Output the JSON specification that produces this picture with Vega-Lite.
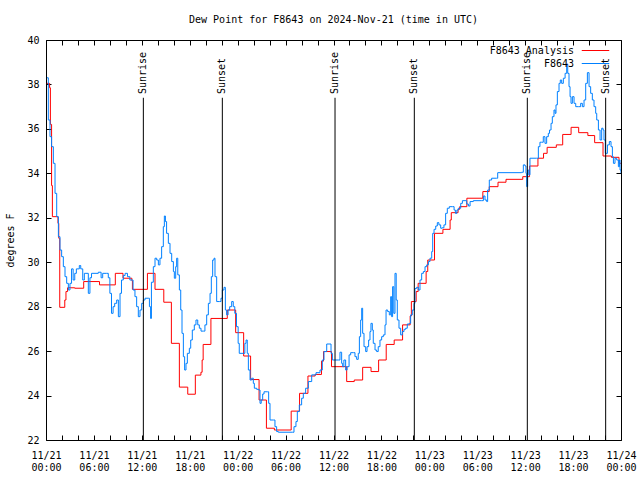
{
  "$schema": "https://vega.github.io/schema/vega-lite/v6.json",
  "autosize": {"type": "none"},
  "padding": {"left": 46, "top": 40, "right": 19, "bottom": 40},
  "width": 575,
  "height": 400,
  "title": {"text": "Dew Point for F8643 on 2024-Nov-21 (time in UTC)", "font": "DejaVu Sans Mono", "fontSize": 10, "fontWeight": "normal", "color": "black", "offset": 10},
  "config": {
    "view": {"stroke": "black", "strokeWidth": 1},
    "axis": {"domain": false, "grid": false, "labelFont": "DejaVu Sans Mono", "labelFontSize": 10, "labelColor": "black", "tickColor": "black", "tickSize": -5, "titleFont": "DejaVu Sans Mono", "titleFontSize": 10, "titleFontWeight": "normal", "titleColor": "black"},
    "legend": {"labelFont": "DejaVu Sans Mono", "labelFontSize": 10, "labelColor": "black"}
  },
  "datasets": {
    "analysis": [
      {"hour": 0.1, "dewpoint": 38.05}, {"hour": 0.45, "dewpoint": 37.85}, {"hour": 0.55, "dewpoint": 36.2}, {"hour": 0.7, "dewpoint": 33.45}, {"hour": 0.8, "dewpoint": 32.05}, {"hour": 1.5, "dewpoint": 31.75}, {"hour": 1.6, "dewpoint": 31.08}, {"hour": 1.72, "dewpoint": 27.97}, {"hour": 2.35, "dewpoint": 28.3}, {"hour": 2.5, "dewpoint": 28.68}, {"hour": 2.7, "dewpoint": 28.85}, {"hour": 3.6, "dewpoint": 28.83}, {"hour": 4.72, "dewpoint": 29.13}, {"hour": 6.7, "dewpoint": 28.98}, {"hour": 8.68, "dewpoint": 29.5}, {"hour": 9.64, "dewpoint": 29.28}, {"hour": 10.75, "dewpoint": 29.17}, {"hour": 10.82, "dewpoint": 28.78}, {"hour": 12.7, "dewpoint": 29.5}, {"hour": 13.65, "dewpoint": 28.78}, {"hour": 14.75, "dewpoint": 28.2}, {"hour": 15.7, "dewpoint": 26.35}, {"hour": 16.7, "dewpoint": 24.38}, {"hour": 17.75, "dewpoint": 24.06}, {"hour": 18.7, "dewpoint": 24.92}, {"hour": 19.4, "dewpoint": 25.05}, {"hour": 19.55, "dewpoint": 25.6}, {"hour": 19.68, "dewpoint": 26.3}, {"hour": 20.65, "dewpoint": 27.47}, {"hour": 22.7, "dewpoint": 27.85}, {"hour": 23.75, "dewpoint": 26.83}, {"hour": 24.75, "dewpoint": 25.78}, {"hour": 25.62, "dewpoint": 24.72}, {"hour": 26.68, "dewpoint": 23.8}, {"hour": 27.6, "dewpoint": 22.53}, {"hour": 28.6, "dewpoint": 22.45}, {"hour": 30.7, "dewpoint": 23.3}, {"hour": 31.75, "dewpoint": 24.1}, {"hour": 32.8, "dewpoint": 24.88}, {"hour": 33.7, "dewpoint": 24.95}, {"hour": 34.5, "dewpoint": 25.55}, {"hour": 34.75, "dewpoint": 25.98}, {"hour": 35.75, "dewpoint": 25.3}, {"hour": 37.65, "dewpoint": 24.63}, {"hour": 38.6, "dewpoint": 24.7}, {"hour": 39.65, "dewpoint": 25.27}, {"hour": 40.7, "dewpoint": 25.08}, {"hour": 41.65, "dewpoint": 25.6}, {"hour": 42.6, "dewpoint": 26.3}, {"hour": 43.6, "dewpoint": 26.5}, {"hour": 44.65, "dewpoint": 27.18}, {"hour": 45.6, "dewpoint": 27.58}, {"hour": 45.75, "dewpoint": 28.23}, {"hour": 46.35, "dewpoint": 28.68}, {"hour": 46.6, "dewpoint": 29.05}, {"hour": 47.6, "dewpoint": 29.58}, {"hour": 47.8, "dewpoint": 30.1}, {"hour": 48.65, "dewpoint": 31.3}, {"hour": 49.7, "dewpoint": 31.48}, {"hour": 50.6, "dewpoint": 31.9}, {"hour": 50.75, "dewpoint": 32.23}, {"hour": 51.6, "dewpoint": 32.38}, {"hour": 51.8, "dewpoint": 32.5}, {"hour": 52.7, "dewpoint": 32.88}, {"hour": 54.7, "dewpoint": 33.18}, {"hour": 55.5, "dewpoint": 33.4}, {"hour": 56.6, "dewpoint": 33.6}, {"hour": 57.6, "dewpoint": 33.73}, {"hour": 59.7, "dewpoint": 33.85}, {"hour": 60.55, "dewpoint": 34.33}, {"hour": 61.6, "dewpoint": 34.68}, {"hour": 62.3, "dewpoint": 34.9}, {"hour": 62.75, "dewpoint": 35.17}, {"hour": 63.9, "dewpoint": 35.28}, {"hour": 64.7, "dewpoint": 35.75}, {"hour": 65.75, "dewpoint": 36.07}, {"hour": 66.7, "dewpoint": 35.83}, {"hour": 67.85, "dewpoint": 35.7}, {"hour": 68.7, "dewpoint": 35.38}, {"hour": 69.75, "dewpoint": 34.78}, {"hour": 70.8, "dewpoint": 34.72}, {"hour": 71.75, "dewpoint": 34.45}, {"hour": 72.0, "dewpoint": 34.45}
    ],
    "observed": [
      {"hour": 0.12, "dewpoint": 38.3}, {"hour": 0.29, "dewpoint": 36.4}, {"hour": 0.5, "dewpoint": 35.65}, {"hour": 0.7, "dewpoint": 35.2}, {"hour": 0.92, "dewpoint": 34.45}, {"hour": 1.13, "dewpoint": 33.1}, {"hour": 1.34, "dewpoint": 32.05}, {"hour": 1.55, "dewpoint": 31.15}, {"hour": 1.75, "dewpoint": 30.55}, {"hour": 1.96, "dewpoint": 30.25}, {"hour": 2.17, "dewpoint": 29.8}, {"hour": 2.38, "dewpoint": 29.35}, {"hour": 2.59, "dewpoint": 29.05}, {"hour": 2.8, "dewpoint": 28.75}, {"hour": 3.0, "dewpoint": 29.05}, {"hour": 3.2, "dewpoint": 29.7}, {"hour": 3.4, "dewpoint": 29.2}, {"hour": 3.6, "dewpoint": 29.5}, {"hour": 3.8, "dewpoint": 29.7}, {"hour": 4.17, "dewpoint": 29.85}, {"hour": 4.35, "dewpoint": 29.7}, {"hour": 4.6, "dewpoint": 29.2}, {"hour": 4.8, "dewpoint": 29.5}, {"hour": 5.0, "dewpoint": 29.5}, {"hour": 5.3, "dewpoint": 28.6}, {"hour": 5.5, "dewpoint": 29.3}, {"hour": 5.7, "dewpoint": 29.5}, {"hour": 6.55, "dewpoint": 29.55}, {"hour": 6.9, "dewpoint": 29.3}, {"hour": 7.1, "dewpoint": 29.5}, {"hour": 7.6, "dewpoint": 29.5}, {"hour": 7.8, "dewpoint": 29.3}, {"hour": 8.0, "dewpoint": 28.6}, {"hour": 8.2, "dewpoint": 27.7}, {"hour": 8.4, "dewpoint": 28.0}, {"hour": 8.6, "dewpoint": 28.15}, {"hour": 8.85, "dewpoint": 28.3}, {"hour": 9.06, "dewpoint": 27.55}, {"hour": 9.27, "dewpoint": 28.6}, {"hour": 9.45, "dewpoint": 29.2}, {"hour": 9.68, "dewpoint": 29.4}, {"hour": 9.9, "dewpoint": 29.5}, {"hour": 10.2, "dewpoint": 29.35}, {"hour": 10.5, "dewpoint": 29.2}, {"hour": 10.9, "dewpoint": 28.75}, {"hour": 11.14, "dewpoint": 28.45}, {"hour": 11.35, "dewpoint": 28.0}, {"hour": 11.56, "dewpoint": 27.55}, {"hour": 11.77, "dewpoint": 27.85}, {"hour": 11.98, "dewpoint": 28.15}, {"hour": 12.19, "dewpoint": 28.3}, {"hour": 12.4, "dewpoint": 28.38}, {"hour": 12.8, "dewpoint": 28.38}, {"hour": 12.95, "dewpoint": 28.0}, {"hour": 13.1, "dewpoint": 27.47}, {"hour": 13.2, "dewpoint": 29.1}, {"hour": 13.44, "dewpoint": 29.8}, {"hour": 13.65, "dewpoint": 30.18}, {"hour": 13.86, "dewpoint": 30.1}, {"hour": 14.07, "dewpoint": 29.88}, {"hour": 14.27, "dewpoint": 30.18}, {"hour": 14.48, "dewpoint": 30.7}, {"hour": 14.69, "dewpoint": 31.6}, {"hour": 14.82, "dewpoint": 32.08}, {"hour": 14.95, "dewpoint": 31.83}, {"hour": 15.1, "dewpoint": 31.3}, {"hour": 15.32, "dewpoint": 30.85}, {"hour": 15.53, "dewpoint": 30.4}, {"hour": 15.74, "dewpoint": 30.03}, {"hour": 15.95, "dewpoint": 29.58}, {"hour": 16.07, "dewpoint": 29.28}, {"hour": 16.24, "dewpoint": 29.8}, {"hour": 16.36, "dewpoint": 30.18}, {"hour": 16.5, "dewpoint": 29.43}, {"hour": 16.7, "dewpoint": 28.75}, {"hour": 16.87, "dewpoint": 27.85}, {"hour": 17.03, "dewpoint": 26.8}, {"hour": 17.2, "dewpoint": 25.75}, {"hour": 17.36, "dewpoint": 25.15}, {"hour": 17.53, "dewpoint": 25.45}, {"hour": 17.7, "dewpoint": 25.9}, {"hour": 17.95, "dewpoint": 26.13}, {"hour": 18.12, "dewpoint": 26.5}, {"hour": 18.32, "dewpoint": 26.95}, {"hour": 18.57, "dewpoint": 27.18}, {"hour": 18.78, "dewpoint": 27.4}, {"hour": 19.0, "dewpoint": 27.18}, {"hour": 19.2, "dewpoint": 27.03}, {"hour": 19.41, "dewpoint": 26.9}, {"hour": 19.7, "dewpoint": 26.9}, {"hour": 19.9, "dewpoint": 27.18}, {"hour": 20.12, "dewpoint": 27.63}, {"hour": 20.33, "dewpoint": 28.15}, {"hour": 20.54, "dewpoint": 28.6}, {"hour": 20.7, "dewpoint": 29.35}, {"hour": 20.87, "dewpoint": 30.1}, {"hour": 21.04, "dewpoint": 30.18}, {"hour": 21.16, "dewpoint": 29.35}, {"hour": 21.37, "dewpoint": 28.23}, {"hour": 21.7, "dewpoint": 28.23}, {"hour": 21.91, "dewpoint": 28.38}, {"hour": 22.08, "dewpoint": 28.75}, {"hour": 22.29, "dewpoint": 28.87}, {"hour": 22.46, "dewpoint": 27.85}, {"hour": 22.62, "dewpoint": 27.63}, {"hour": 22.8, "dewpoint": 27.85}, {"hour": 23.0, "dewpoint": 28.0}, {"hour": 23.25, "dewpoint": 28.23}, {"hour": 23.45, "dewpoint": 28.0}, {"hour": 23.64, "dewpoint": 27.7}, {"hour": 23.85, "dewpoint": 27.1}, {"hour": 24.06, "dewpoint": 26.35}, {"hour": 24.2, "dewpoint": 25.9}, {"hour": 24.7, "dewpoint": 25.9}, {"hour": 24.9, "dewpoint": 26.35}, {"hour": 25.05, "dewpoint": 26.5}, {"hour": 25.2, "dewpoint": 25.9}, {"hour": 25.34, "dewpoint": 25.15}, {"hour": 25.55, "dewpoint": 24.7}, {"hour": 25.75, "dewpoint": 24.78}, {"hour": 25.96, "dewpoint": 24.55}, {"hour": 26.09, "dewpoint": 24.33}, {"hour": 26.38, "dewpoint": 24.28}, {"hour": 26.63, "dewpoint": 24.25}, {"hour": 26.8, "dewpoint": 23.65}, {"hour": 26.95, "dewpoint": 23.8}, {"hour": 27.13, "dewpoint": 24.07}, {"hour": 27.3, "dewpoint": 24.17}, {"hour": 27.72, "dewpoint": 24.17}, {"hour": 27.88, "dewpoint": 23.65}, {"hour": 28.05, "dewpoint": 22.9}, {"hour": 28.47, "dewpoint": 22.9}, {"hour": 28.67, "dewpoint": 22.6}, {"hour": 28.88, "dewpoint": 22.38}, {"hour": 29.09, "dewpoint": 22.35}, {"hour": 30.84, "dewpoint": 22.35}, {"hour": 31.05, "dewpoint": 22.6}, {"hour": 31.3, "dewpoint": 22.83}, {"hour": 31.47, "dewpoint": 23.28}, {"hour": 31.72, "dewpoint": 23.58}, {"hour": 32.01, "dewpoint": 23.88}, {"hour": 32.22, "dewpoint": 24.1}, {"hour": 32.51, "dewpoint": 24.33}, {"hour": 32.85, "dewpoint": 24.63}, {"hour": 33.27, "dewpoint": 24.93}, {"hour": 33.81, "dewpoint": 25.03}, {"hour": 34.31, "dewpoint": 25.15}, {"hour": 34.6, "dewpoint": 25.6}, {"hour": 34.81, "dewpoint": 25.98}, {"hour": 35.15, "dewpoint": 26.32}, {"hour": 35.56, "dewpoint": 26.32}, {"hour": 35.69, "dewpoint": 25.9}, {"hour": 35.86, "dewpoint": 25.6}, {"hour": 36.6, "dewpoint": 25.6}, {"hour": 36.81, "dewpoint": 25.95}, {"hour": 37.02, "dewpoint": 25.45}, {"hour": 37.15, "dewpoint": 25.3}, {"hour": 37.3, "dewpoint": 25.6}, {"hour": 37.52, "dewpoint": 25.15}, {"hour": 37.7, "dewpoint": 25.3}, {"hour": 37.95, "dewpoint": 25.83}, {"hour": 38.15, "dewpoint": 25.93}, {"hour": 38.48, "dewpoint": 25.93}, {"hour": 38.69, "dewpoint": 25.75}, {"hour": 38.9, "dewpoint": 25.63}, {"hour": 39.1, "dewpoint": 25.9}, {"hour": 39.24, "dewpoint": 26.65}, {"hour": 39.4, "dewpoint": 27.4}, {"hour": 39.53, "dewpoint": 27.93}, {"hour": 39.65, "dewpoint": 26.8}, {"hour": 39.82, "dewpoint": 26.2}, {"hour": 40.03, "dewpoint": 25.98}, {"hour": 40.2, "dewpoint": 26.2}, {"hour": 40.4, "dewpoint": 26.5}, {"hour": 40.57, "dewpoint": 26.88}, {"hour": 40.69, "dewpoint": 27.25}, {"hour": 40.86, "dewpoint": 26.95}, {"hour": 40.98, "dewpoint": 26.35}, {"hour": 41.2, "dewpoint": 26.05}, {"hour": 41.4, "dewpoint": 25.98}, {"hour": 41.6, "dewpoint": 26.2}, {"hour": 41.82, "dewpoint": 26.5}, {"hour": 42.03, "dewpoint": 26.65}, {"hour": 42.24, "dewpoint": 26.73}, {"hour": 42.45, "dewpoint": 27.18}, {"hour": 42.58, "dewpoint": 27.85}, {"hour": 42.78, "dewpoint": 27.78}, {"hour": 42.99, "dewpoint": 27.63}, {"hour": 43.16, "dewpoint": 28.45}, {"hour": 43.28, "dewpoint": 27.55}, {"hour": 43.4, "dewpoint": 28.9}, {"hour": 43.55, "dewpoint": 27.7}, {"hour": 43.7, "dewpoint": 29.5}, {"hour": 43.85, "dewpoint": 28.3}, {"hour": 43.99, "dewpoint": 27.4}, {"hour": 44.2, "dewpoint": 27.03}, {"hour": 44.41, "dewpoint": 26.73}, {"hour": 44.62, "dewpoint": 26.88}, {"hour": 44.83, "dewpoint": 26.98}, {"hour": 45.03, "dewpoint": 27.03}, {"hour": 45.24, "dewpoint": 27.22}, {"hour": 45.5, "dewpoint": 27.25}, {"hour": 45.66, "dewpoint": 27.63}, {"hour": 45.87, "dewpoint": 27.85}, {"hour": 46.08, "dewpoint": 28.15}, {"hour": 46.2, "dewpoint": 28.82}, {"hour": 46.41, "dewpoint": 28.87}, {"hour": 46.62, "dewpoint": 28.75}, {"hour": 46.83, "dewpoint": 29.2}, {"hour": 47.04, "dewpoint": 29.5}, {"hour": 47.25, "dewpoint": 29.58}, {"hour": 47.46, "dewpoint": 29.8}, {"hour": 47.67, "dewpoint": 29.88}, {"hour": 47.88, "dewpoint": 30.03}, {"hour": 48.08, "dewpoint": 30.18}, {"hour": 48.3, "dewpoint": 30.48}, {"hour": 48.42, "dewpoint": 31.3}, {"hour": 48.59, "dewpoint": 31.48}, {"hour": 48.8, "dewpoint": 31.63}, {"hour": 49.0, "dewpoint": 31.78}, {"hour": 49.2, "dewpoint": 31.68}, {"hour": 49.42, "dewpoint": 31.53}, {"hour": 49.6, "dewpoint": 31.55}, {"hour": 49.83, "dewpoint": 31.68}, {"hour": 50.04, "dewpoint": 32.2}, {"hour": 50.25, "dewpoint": 32.43}, {"hour": 50.5, "dewpoint": 32.5}, {"hour": 50.92, "dewpoint": 32.5}, {"hour": 51.1, "dewpoint": 32.35}, {"hour": 51.26, "dewpoint": 32.2}, {"hour": 51.45, "dewpoint": 32.35}, {"hour": 51.63, "dewpoint": 32.43}, {"hour": 51.93, "dewpoint": 32.65}, {"hour": 52.14, "dewpoint": 32.77}, {"hour": 52.47, "dewpoint": 32.77}, {"hour": 52.68, "dewpoint": 32.62}, {"hour": 52.89, "dewpoint": 32.53}, {"hour": 53.1, "dewpoint": 32.73}, {"hour": 53.51, "dewpoint": 32.77}, {"hour": 54.56, "dewpoint": 32.77}, {"hour": 54.77, "dewpoint": 32.98}, {"hour": 54.97, "dewpoint": 32.8}, {"hour": 55.18, "dewpoint": 32.73}, {"hour": 55.3, "dewpoint": 33.25}, {"hour": 55.51, "dewpoint": 33.7}, {"hour": 55.8, "dewpoint": 33.78}, {"hour": 56.43, "dewpoint": 33.78}, {"hour": 56.56, "dewpoint": 34.03}, {"hour": 59.56, "dewpoint": 34.05}, {"hour": 59.77, "dewpoint": 34.38}, {"hour": 59.98, "dewpoint": 34.33}, {"hour": 60.1, "dewpoint": 34.0}, {"hour": 60.19, "dewpoint": 33.4}, {"hour": 60.31, "dewpoint": 34.15}, {"hour": 60.45, "dewpoint": 33.93}, {"hour": 60.6, "dewpoint": 34.68}, {"hour": 61.44, "dewpoint": 34.68}, {"hour": 61.65, "dewpoint": 35.2}, {"hour": 61.85, "dewpoint": 35.4}, {"hour": 62.06, "dewpoint": 35.4}, {"hour": 62.27, "dewpoint": 35.65}, {"hour": 62.48, "dewpoint": 35.35}, {"hour": 62.69, "dewpoint": 35.65}, {"hour": 62.9, "dewpoint": 35.8}, {"hour": 63.05, "dewpoint": 35.95}, {"hour": 63.24, "dewpoint": 36.25}, {"hour": 63.4, "dewpoint": 36.55}, {"hour": 63.61, "dewpoint": 36.85}, {"hour": 63.75, "dewpoint": 36.7}, {"hour": 63.86, "dewpoint": 37.08}, {"hour": 64.03, "dewpoint": 37.68}, {"hour": 64.24, "dewpoint": 38.05}, {"hour": 64.4, "dewpoint": 38.2}, {"hour": 64.57, "dewpoint": 38.05}, {"hour": 64.78, "dewpoint": 38.28}, {"hour": 65.0, "dewpoint": 38.5}, {"hour": 65.2, "dewpoint": 38.92}, {"hour": 65.33, "dewpoint": 38.5}, {"hour": 65.49, "dewpoint": 37.9}, {"hour": 65.62, "dewpoint": 37.45}, {"hour": 65.74, "dewpoint": 37.15}, {"hour": 65.91, "dewpoint": 37.45}, {"hour": 66.12, "dewpoint": 37.15}, {"hour": 66.33, "dewpoint": 37.0}, {"hour": 66.66, "dewpoint": 37.0}, {"hour": 66.95, "dewpoint": 37.15}, {"hour": 67.16, "dewpoint": 37.0}, {"hour": 67.37, "dewpoint": 37.3}, {"hour": 67.58, "dewpoint": 38.05}, {"hour": 67.79, "dewpoint": 38.53}, {"hour": 68.0, "dewpoint": 37.9}, {"hour": 68.2, "dewpoint": 37.6}, {"hour": 68.41, "dewpoint": 37.3}, {"hour": 68.62, "dewpoint": 37.0}, {"hour": 68.83, "dewpoint": 36.7}, {"hour": 68.96, "dewpoint": 36.4}, {"hour": 69.17, "dewpoint": 35.95}, {"hour": 69.38, "dewpoint": 35.5}, {"hour": 69.58, "dewpoint": 36.03}, {"hour": 69.75, "dewpoint": 35.95}, {"hour": 69.87, "dewpoint": 35.5}, {"hour": 70.03, "dewpoint": 34.9}, {"hour": 70.3, "dewpoint": 35.28}, {"hour": 70.54, "dewpoint": 35.43}, {"hour": 70.75, "dewpoint": 35.2}, {"hour": 70.92, "dewpoint": 34.75}, {"hour": 71.05, "dewpoint": 34.45}, {"hour": 71.25, "dewpoint": 34.68}, {"hour": 71.46, "dewpoint": 34.6}, {"hour": 71.67, "dewpoint": 34.3}, {"hour": 71.8, "dewpoint": 34.6}, {"hour": 71.88, "dewpoint": 34.15}, {"hour": 72.0, "dewpoint": 34.0}
    ],
    "sun": [
      {"hour": 12.19, "event": "Sunrise"}, {"hour": 22.08, "event": "Sunset"},
      {"hour": 36.19, "event": "Sunrise"}, {"hour": 46.12, "event": "Sunset"},
      {"hour": 60.27, "event": "Sunrise"}, {"hour": 70.08, "event": "Sunset"}
    ]
  },
  "resolve": {"axis": {"x": "independent", "y": "independent"}},
  "layer": [
    {
      "data": {"name": "analysis"},
      "mark": {"type": "line", "interpolate": "step-after", "strokeWidth": 1, "clip": true},
      "encoding": {
        "x": {"field": "hour", "type": "quantitative", "scale": {"domain": [0, 72], "nice": false, "zero": false},
          "axis": {"orient": "bottom", "title": null, "values": [0,2,4,6,8,10,12,14,16,18,20,22,24,26,28,30,32,34,36,38,40,42,44,46,48,50,52,54,56,58,60,62,64,66,68,70,72],
            "labelExpr": "datum.value % 6 == 0 ? ['11/' + (21 + floor(datum.value / 24)), ((datum.value % 24) < 10 ? '0' : '') + (datum.value % 24) + ':00'] : ''",
            "labelPadding": 15, "labelLineHeight": 12.5, "labelOverlap": false, "labelFlush": false, "labelBound": false}},
        "y": {"field": "dewpoint", "type": "quantitative", "scale": {"domain": [22, 40], "nice": false, "zero": false},
          "axis": {"orient": "left", "title": "degrees F", "values": [22,24,26,28,30,32,34,36,38,40], "labelPadding": 12, "titlePadding": 11, "labelOverlap": false, "labelFlush": false}},
        "color": {"datum": "F8643 Analysis", "type": "nominal",
          "scale": {"domain": ["F8643 Analysis", "F8643"], "range": ["#ff0000", "#0080ff"]},
          "legend": {"orient": "none", "legendX": 544, "legendY": 5, "title": null, "symbolType": "M-3,0H3", "symbolSize": 84, "symbolStrokeWidth": 1, "labelAlign": "right", "labelOffset": -27, "rowPadding": 2, "padding": 0}}
      }
    },
    {
      "data": {"name": "observed"},
      "mark": {"type": "line", "interpolate": "step-after", "strokeWidth": 1, "clip": true},
      "encoding": {
        "x": {"field": "hour", "type": "quantitative", "axis": {"orient": "top", "title": null, "labels": false, "values": [0,2,4,6,8,10,12,14,16,18,20,22,24,26,28,30,32,34,36,38,40,42,44,46,48,50,52,54,56,58,60,62,64,66,68,70,72]}},
        "y": {"field": "dewpoint", "type": "quantitative", "axis": {"orient": "right", "title": null, "labels": false, "values": [22,24,26,28,30,32,34,36,38,40]}},
        "color": {"datum": "F8643", "type": "nominal"}
      }
    },
    {
      "data": {"name": "sun"},
      "mark": {"type": "rule", "color": "black", "strokeWidth": 1},
      "encoding": {
        "x": {"field": "hour", "type": "quantitative", "axis": null},
        "y": {"datum": 22, "type": "quantitative", "axis": null},
        "y2": {"datum": 37.4}
      }
    },
    {
      "data": {"name": "sun"},
      "mark": {"type": "text", "angle": 270, "align": "left", "baseline": "middle", "font": "DejaVu Sans Mono", "fontSize": 10, "color": "black"},
      "encoding": {
        "x": {"field": "hour", "type": "quantitative", "axis": null},
        "y": {"datum": 37.57, "type": "quantitative", "axis": null},
        "text": {"field": "event", "type": "nominal"}
      }
    }
  ]
}
